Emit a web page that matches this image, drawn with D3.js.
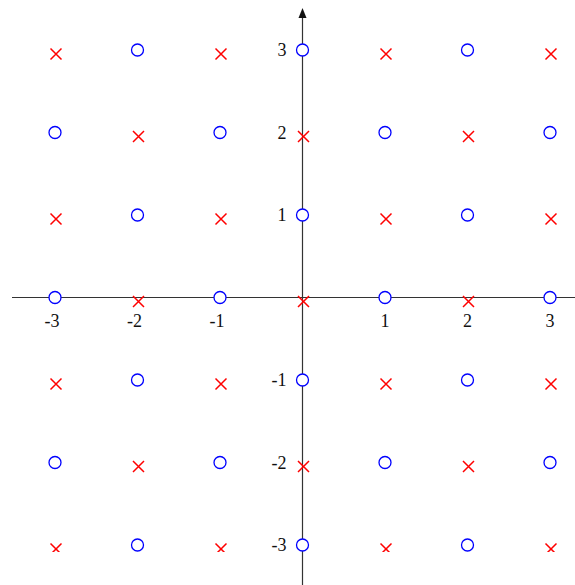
<!DOCTYPE html>
<html>
<head>
<meta charset="utf-8">
<script src="https://cdn.jsdelivr.net/npm/d3@7"></script>
<style>
  body { margin: 0; background: #fff; }
  text { font-family: "Liberation Serif", "Times New Roman", serif; font-size: 18px; fill: #111; }
</style>
</head>
<body>
<div id="chart"></div>
<script>
// lattice points, listed row by row (top to bottom)
const crossX = [-3, -1, 1, 3,  -2, 0, 2,  -3, -1, 1, 3,  -2, 0, 2,  -3, -1, 1, 3,  -2, 0, 2,  -3, -1, 1, 3]
const crossY = [ 3,  3, 3, 3,   2, 2, 2,   1,  1, 1, 1,   0, 0, 0,  -1, -1,-1,-1,  -2,-2,-2,  -3, -3,-3,-3]
const circleX = [-2, 0, 2,  -3, -1, 1, 3,  -2, 0, 2,  -3, -1, 1, 3,  -2, 0, 2,  -3, -1, 1, 3,  -2, 0, 2]
const circleY = [ 3, 3, 3,   2,  2, 2, 2,   1, 1, 1,   0,  0, 0, 0,  -1,-1,-1,  -2, -2,-2,-2,  -3,-3,-3]
const ticks = [-3, -2, -1, 1, 2, 3]

const width = 575, height = 585

const x = d3.scaleLinear().domain([-3, 3]).range([55, 550])
const y = d3.scaleLinear().domain([-3, 3]).range([545, 50])

const svg = d3.select('#chart').append('svg')
    .attr('width', width)
    .attr('height', height)

svg.append('defs').append('clipPath').attr('id', 'plot-clip')
    .append('rect')
    .attr('x', 0).attr('y', 0)
    .attr('width', width).attr('height', 552)

// axes
svg.append('line')
    .attr('x1', 12).attr('x2', width)
    .attr('y1', y(0)).attr('y2', y(0))
    .attr('stroke', '#333').attr('stroke-width', 1.2)

svg.append('line')
    .attr('x1', x(0)).attr('x2', x(0))
    .attr('y1', 16).attr('y2', height)
    .attr('stroke', '#333').attr('stroke-width', 1.2)

svg.append('path')
    .attr('d', `M${x(0)},8 L${x(0) - 4},18 L${x(0) + 4},18 Z`)
    .attr('fill', '#111')

// tick labels
svg.selectAll('.xlabel').data(ticks).enter().append('text')
    .attr('class', 'xlabel')
    .attr('x', d => x(d) + 4.5)
    .attr('y', y(0) + 29)
    .attr('text-anchor', 'end')
    .text(d => d)

svg.selectAll('.ylabel').data(ticks).enter().append('text')
    .attr('class', 'ylabel')
    .attr('x', x(0) - 16)
    .attr('y', d => y(d) + 6)
    .attr('text-anchor', 'end')
    .text(d => d)

// marks
const s = 5.5
svg.append('g').attr('clip-path', 'url(#plot-clip)')
    .selectAll('path').data(crossX).enter().append('path')
    .attr('d', (d, i) => {
        const cx = x(d) + 1, cy = y(crossY[i]) + 4
        return `M${cx - s},${cy - s}L${cx + s},${cy + s}M${cx - s},${cy + s}L${cx + s},${cy - s}`
    })
    .attr('stroke', '#ff0000')
    .attr('stroke-width', 1.5)
    .attr('fill', 'none')

svg.append('g')
    .selectAll('circle').data(circleX).enter().append('circle')
    .attr('cx', d => x(d))
    .attr('cy', (d, i) => y(circleY[i]))
    .attr('r', 6)
    .attr('fill', '#fff')
    .attr('stroke', '#0000ff')
    .attr('stroke-width', 1.3)
</script>
</body>
</html>
